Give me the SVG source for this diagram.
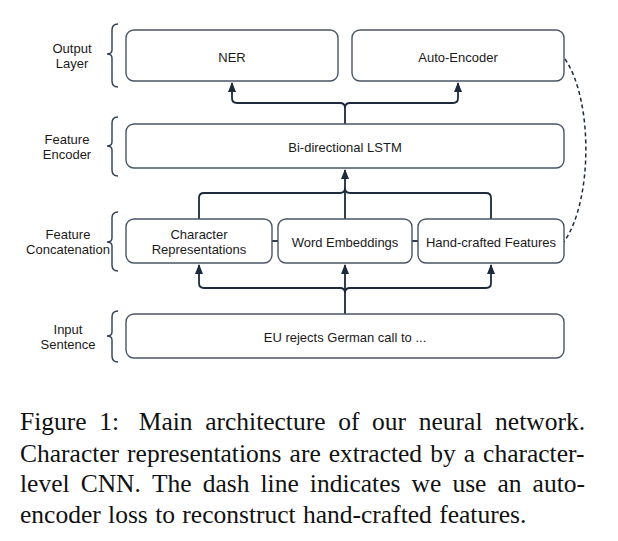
<svg xmlns="http://www.w3.org/2000/svg" width="618" height="541" viewBox="0 0 618 541">
<style>
.box{fill:#fff;stroke:#4a5566;stroke-width:1.4}
.lbl{font-family:"Liberation Sans",Arial,sans-serif;font-size:13px;fill:#1a1a1a;text-anchor:middle}
.brace{fill:none;stroke:#2f3d4e;stroke-width:1.4}
.con{fill:none;stroke:#1c2a3b;stroke-width:1.8}
.dash{fill:none;stroke:#1c2a3b;stroke-width:1.5;stroke-dasharray:4 3}
.cap{font-family:"Liberation Serif","Times New Roman",serif;font-size:25.5px;fill:#111}
</style>
<defs>
<marker id="arr" markerUnits="userSpaceOnUse" markerWidth="10" markerHeight="10" viewBox="0 0 10 10" refX="9" refY="5" orient="auto">
<path d="M0,1 L10,5 L0,9 Z" fill="#1c2a3b"/>
</marker>
</defs>
<rect width="618" height="541" fill="#fff"/>

<g id="side-labels">
<path class="brace" d="M118,24 Q112,24 112,30 L112,50 Q112,54 107,54 Q112,54 112,58 L112,81 Q112,87 118,87"/>
<text class="lbl" x="72" y="53">Output</text>
<text class="lbl" x="72" y="68">Layer</text>
<path class="brace" d="M118,117 Q112,117 112,123 L112,142 Q112,146 107,146 Q112,146 112,150 L112,170 Q112,176 118,176"/>
<text class="lbl" x="67" y="144">Feature</text>
<text class="lbl" x="67" y="159">Encoder</text>
<path class="brace" d="M118,212 Q112,212 112,218 L112,238 Q112,242 107,242 Q112,242 112,246 L112,265 Q112,271 118,271"/>
<text class="lbl" x="68" y="239">Feature</text>
<text class="lbl" x="68" y="254">Concatenation</text>
<path class="brace" d="M118,311 Q112,311 112,317 L112,332 Q112,336 107,336 Q112,336 112,340 L112,356 Q112,362 118,362"/>
<text class="lbl" x="68" y="334">Input</text>
<text class="lbl" x="68" y="349">Sentence</text>
</g>

<g id="connectors">
<path class="con" d="M345,125 L345,108 Q345,103 340,103 L237,103 Q232,103 232,98 L232,83" marker-end="url(#arr)"/>
<path class="con" d="M345,108 Q345,103 350,103 L453,103 Q458,103 458,98 L458,83" marker-end="url(#arr)"/>
<path class="con" d="M199,219 L199,198 Q199,193 204,193 L340,193 Q345,193 345,188"/>
<path class="con" d="M491,219 L491,198 Q491,193 486,193 L350,193 Q345,193 345,188"/>
<path class="con" d="M345,219 L345,170" marker-end="url(#arr)"/>
<path class="con" d="M345,314 L345,293 Q345,288 340,288 L204,288 Q199,288 199,283 L199,265" marker-end="url(#arr)"/>
<path class="con" d="M345,293 Q345,288 350,288 L486,288 Q491,288 491,283 L491,265" marker-end="url(#arr)"/>
<path class="con" d="M345,293 L345,265" marker-end="url(#arr)"/>
<path class="con" d="M272,241 L278,241"/>
<path class="con" d="M412,241 L418,241"/>
<path class="dash" d="M565,59 C593,100 593,200 564,242"/>
</g>

<g id="ner">
<rect class="box" x="126" y="30" width="212" height="51" rx="8"/>
<text class="lbl" x="232" y="61.5">NER</text>
</g>
<g id="auto-encoder">
<rect class="box" x="352" y="30" width="212" height="51" rx="8"/>
<text class="lbl" x="458" y="61.5">Auto-Encoder</text>
</g>
<g id="bilstm">
<rect class="box" x="126" y="124" width="438" height="44" rx="8"/>
<text class="lbl" x="345" y="152">Bi-directional LSTM</text>
</g>
<g id="char-rep">
<rect class="box" x="126" y="219" width="146" height="44" rx="8"/>
<text class="lbl" x="199" y="239">Character</text>
<text class="lbl" x="199" y="254">Representations</text>
</g>
<g id="word-emb">
<rect class="box" x="278" y="219" width="134" height="44" rx="8"/>
<text class="lbl" x="345" y="247">Word Embeddings</text>
</g>
<g id="hand-crafted">
<rect class="box" x="418" y="219" width="146" height="44" rx="8"/>
<text class="lbl" x="491" y="247">Hand-crafted Features</text>
</g>
<g id="input">
<rect class="box" x="126" y="314" width="438" height="44" rx="8"/>
<text class="lbl" x="345" y="342">EU rejects German call to ...</text>
</g>

<g id="caption">
<text class="cap" y="430"><tspan x="20">Figure</tspan><tspan x="99.3">1:</tspan><tspan x="138.8">Main</tspan><tspan x="205.2">architecture</tspan><tspan x="338.3">of</tspan><tspan x="372.1">our</tspan><tspan x="418.8">neural</tspan><tspan x="495.1">network.</tspan></text>
<text class="cap" y="462"><tspan x="20">Character</tspan><tspan x="127.1">representations</tspan><tspan x="289.6">are</tspan><tspan x="328.7">extracted</tspan><tspan x="430.3">by</tspan><tspan x="463.8">a</tspan><tspan x="483.1">character-</tspan></text>
<text class="cap" y="492"><tspan x="20">level</tspan><tspan x="80.7">CNN.</tspan><tspan x="151.9">The</tspan><tspan x="202.7">dash</tspan><tspan x="260.5">line</tspan><tspan x="309.8">indicates</tspan><tspan x="411.6">we</tspan><tspan x="452.4">use</tspan><tspan x="497.5">an</tspan><tspan x="532.6">auto-</tspan></text>
<text class="cap" y="523" x="20" word-spacing="1">encoder loss to reconstruct hand-crafted features.</text>
</g>
</svg>
